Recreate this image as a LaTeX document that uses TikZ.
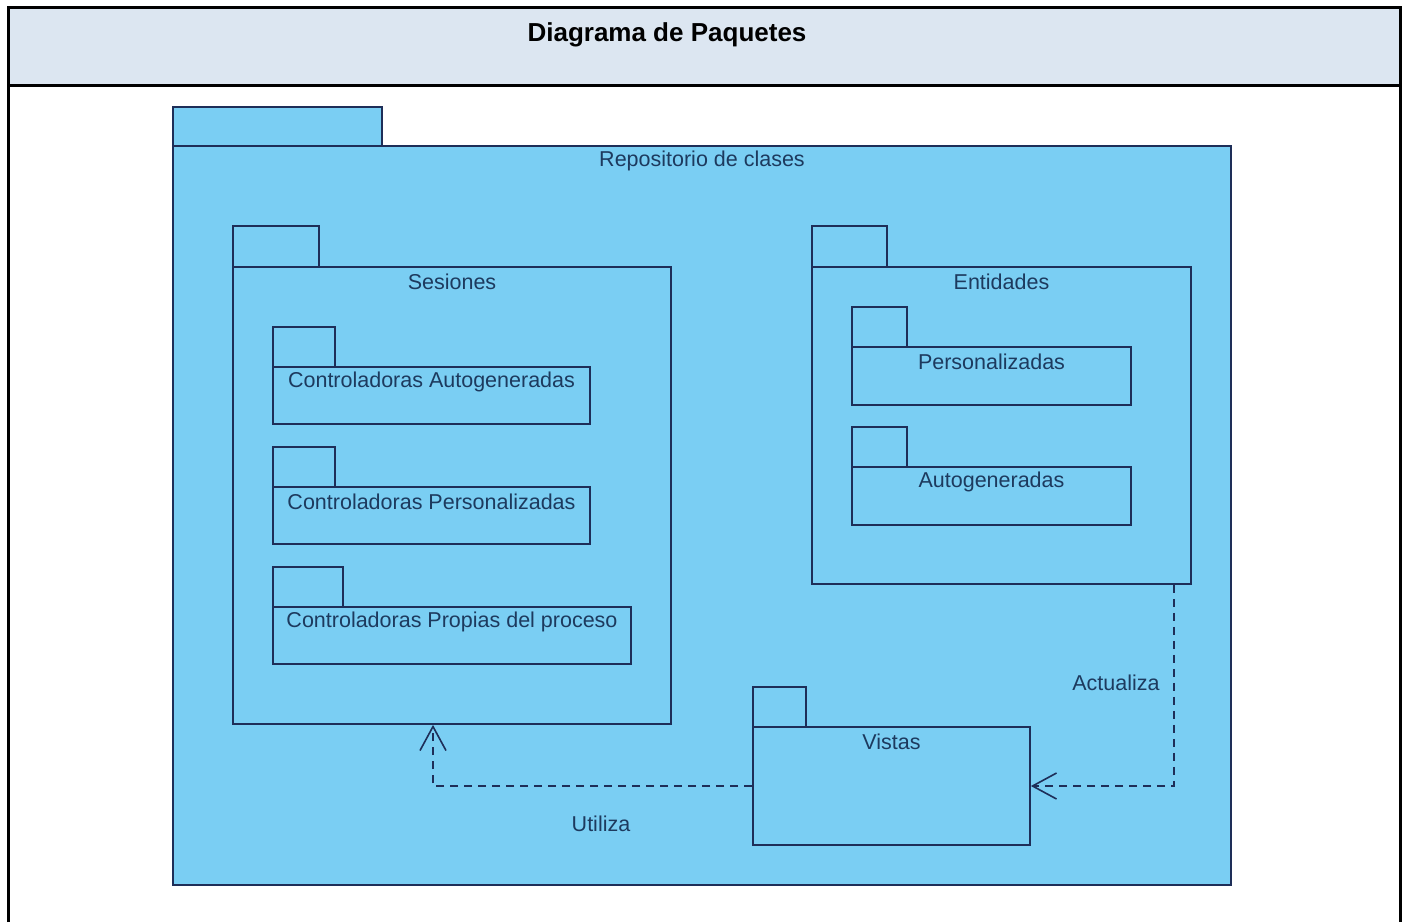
\documentclass[tikz,border=0pt]{standalone}
\usepackage{fontspec}
\setmainfont{Liberation Sans}
\usetikzlibrary{fit,calc,arrows.meta}

\definecolor{pkgfill}{HTML}{7ACEF3}
\definecolor{pkgline}{HTML}{1E2E58}
\definecolor{pkgtext}{HTML}{1D3A5E}
\definecolor{headfill}{HTML}{DCE6F1}

\tikzset{
  pkgbody/.style={draw=pkgline, fill=pkgfill, line width=1.7pt, inner sep=0pt},
  pkgtab/.style={draw=pkgline, fill=pkgfill, line width=1.7pt, inner sep=0pt},
  lbl/.style={text=pkgtext, font=\fontsize{21.5}{25}\selectfont, inner sep=0pt},
  dep/.style={draw=pkgline, line width=1.6pt, dash pattern=on 8pt off 6pt,
    -{Straight Barb[length=24pt,width=26pt,line width=1.6pt]}},
}

% draws a package: body, tab and title; #1 name, #2..#7 geometry, #8 label
\newcommand{\umlpkg}[8]{%
  \node[pkgtab, fit={(#2,#4) (#3,#5)}] (#1tab) {};
  \node[pkgbody, fit={(#2,#5) (#6,#7)}] (#1) {};
  \node[lbl] (#1lbl) at ($(#1.north)+(0,16)$) {#8};
}

\begin{document}
\begin{tikzpicture}[x=1pt,y=-1pt]
  \useasboundingbox (0,0) rectangle (1408,922);
  \fill[white] (0,0) rectangle (1408,922);

  % header band and frame
  \fill[headfill] (8,7) rectangle (1400,85);
  \draw[black, line width=3pt] (8,922) -- (8,7) -- (1400,7) -- (1400,922);
  \draw[black, line width=3pt] (8,85) -- (1400,85);
  \node[font=\fontsize{26}{30}\selectfont\bfseries, inner sep=0pt] (title) at (667,35) {Diagrama de Paquetes};

  % outer repository package
  \umlpkg{repo}{173}{382}{107}{146}{1231}{885}{Repositorio de clases}

  % Sesiones and its sub-packages
  \umlpkg{ses}{233}{319}{226}{267}{671}{724}{Sesiones}
  \umlpkg{cauto}{273}{335}{327}{367}{590}{424}{Controladoras Autogeneradas}
  \umlpkg{cpers}{273}{335}{447}{487}{590}{544}{Controladoras Personalizadas}
  \umlpkg{cprop}{273}{343}{567}{607}{631}{664}{Controladoras Propias del proceso}

  % Entidades and its sub-packages
  \umlpkg{ent}{812}{887}{226}{267}{1191}{584}{Entidades}
  \umlpkg{epers}{852}{907}{307}{347}{1131}{405}{Personalizadas}
  \umlpkg{eauto}{852}{907}{427}{467}{1131}{525}{Autogeneradas}

  % Vistas
  \umlpkg{vis}{753}{806}{687}{727}{1030}{845}{Vistas}

  % dependencies
  \draw[dep] ([xshift=-18pt]ent.south east) |- (vis.east);
  \draw[dep] (vis.west) -| ([xshift=-19pt]ses.south);
  \node[lbl] (lact) at (1116,683) {Actualiza};
  \node[lbl] (luti) at (601,824) {Utiliza};
\end{tikzpicture}
\end{document}
